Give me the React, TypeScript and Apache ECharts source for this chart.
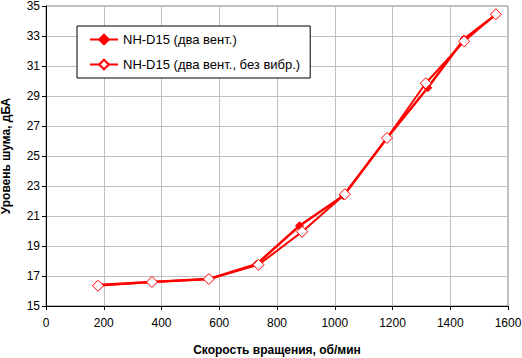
import React, { useEffect, useRef } from "react";
import * as echarts from "echarts";

const seriesNames = ["NH-D15 (два вент.)", "NH-D15 (два вент., без вибр.)"];
const speedA = [180, 365, 565, 730, 878, 1030, 1181, 1322, 1448, 1560];
const noiseA = [16.4, 16.6, 16.8, 17.8, 20.35, 22.35, 26.2, 29.55, 32.8, 34.45];
const speedB = [180, 367, 564, 736, 887, 1035, 1181, 1315, 1448, 1558];
const noiseB = [16.35, 16.6, 16.8, 17.75, 19.95, 22.45, 26.2, 29.85, 32.65, 34.45];
const xTitle = "Скорость вращения, об/мин";
const yTitle = "Уровень шума, дБА";

export default function App() {
  const ref = useRef<HTMLDivElement>(null);
  useEffect(() => {
    const chart = echarts.init(ref.current!, null, { renderer: "svg" });
    const font = "Arial, 'Liberation Sans', sans-serif";
    chart.setOption({
      animation: false,
      textStyle: { fontFamily: font },
      grid: {
        left: 46, top: 6, right: 14, bottom: 52,
        containLabel: false, outerBoundsMode: "none",
        show: true, borderColor: "#808080", borderWidth: 1,
      },
      legend: {
        orient: "vertical",
        left: 77,
        top: 26,
        width: 231,
        padding: [7, 10, 7, 12],
        itemGap: 12,
        itemWidth: 28,
        itemHeight: 12,
        borderColor: "#000",
        borderWidth: 1,
        backgroundColor: "#fff",
        textStyle: { fontSize: 13, color: "#000", fontFamily: font },
        data: seriesNames,
      },
      xAxis: {
        type: "value",
        min: 0,
        max: 1600,
        interval: 200,
        name: xTitle,
        nameLocation: "middle",
        nameGap: 38,
        nameTextStyle: { fontSize: 12, fontWeight: "bold", color: "#000", fontFamily: font },
        axisLine: { lineStyle: { color: "#000", width: 1 } },
        axisTick: { show: true, length: 4, lineStyle: { color: "#000" } },
        axisLabel: { fontSize: 12, color: "#000", margin: 11, formatter: (v: number) => String(v) },
        splitLine: { lineStyle: { color: "#c0c0c0", width: 1 } },
      },
      yAxis: {
        type: "value",
        min: 15,
        max: 35,
        interval: 2,
        name: yTitle,
        nameLocation: "middle",
        nameGap: 34,
        nameTextStyle: { fontSize: 12, fontWeight: "bold", color: "#000", fontFamily: font },
        axisLine: { show: true, lineStyle: { color: "#000", width: 1 } },
        axisTick: { show: true, length: 4, lineStyle: { color: "#000" } },
        axisLabel: { fontSize: 12, color: "#000", margin: 6, formatter: (v: number) => String(v) },
        splitLine: { lineStyle: { color: "#c0c0c0", width: 1 } },
      },
      series: [
        {
          name: seriesNames[0],
          type: "line",
          data: speedA.map((x, i) => [x, noiseA[i]]),
          symbol: "diamond",
          symbolSize: 8,
          lineStyle: { color: "#ff0000", width: 2.5 },
          itemStyle: { color: "#ff0000", borderColor: "#ff0000", borderWidth: 1 },
          z: 3,
        },
        {
          name: seriesNames[1],
          type: "line",
          data: speedB.map((x, i) => [x, noiseB[i]]),
          symbol: "diamond",
          symbolSize: 11,
          lineStyle: { color: "#ff0000", width: 2 },
          itemStyle: { color: "#ffffff", borderColor: "#ff0000", borderWidth: 1 },
          z: 4,
        },
      ],
    });
    return () => chart.dispose();
  }, []);
  return <div ref={ref} style={{ width: 522, height: 358, position: "absolute", left: 0, top: 0 }} />;
}
